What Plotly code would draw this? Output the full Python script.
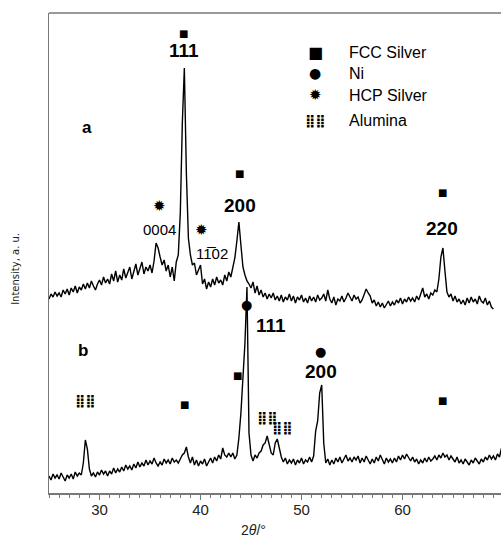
import numpy as np
import plotly.graph_objects as go

# 2-theta grid (degrees), step 0.2
two_theta_a = [round(25.0 + 0.2 * i, 1) for i in range(221)]   # 25.0 .. 69.0
two_theta_b = [round(25.0 + 0.2 * i, 1) for i in range(225)]   # 25.0 .. 69.8

# Pattern a (arbitrary intensity units, offset)
intensity_a = [
    194, 199, 196, 201, 197,
    200, 196, 203, 199, 204,
    198, 205, 201, 207, 200,
    206, 203, 209, 204, 210,
    205, 212, 207, 203, 209,
    213, 208, 216, 210, 214,
    209, 219, 212, 222, 211,
    218, 213, 224, 215, 220,
    226, 214, 221, 229, 218,
    224, 231, 219, 226, 222,
    228, 220, 232, 250, 245,
    236, 228, 233, 222, 228,
    216, 226, 212, 231, 238,
    280, 370, 425, 320, 255,
    238, 228, 230, 218, 224,
    228, 209, 214, 204, 211,
    206, 214, 208, 216, 210,
    213, 208, 218, 212, 221,
    216, 224, 235, 252, 271,
    248, 226, 218, 212, 209,
    205, 211, 200, 207, 198,
    203, 196, 200, 194, 199,
    195, 200, 193, 197, 192,
    198, 191, 196, 193, 199,
    192, 197, 190, 196, 193,
    198, 191, 195, 190, 197,
    192, 196, 191, 198, 193,
    195, 199, 192, 203, 194,
    190, 196, 188, 194, 192,
    197, 191, 195, 200, 196,
    192, 198, 194, 196, 190,
    193, 199, 204, 200, 197,
    190, 193, 187, 191, 186,
    190, 185, 189, 192, 187,
    191, 188, 193, 190, 195,
    189, 194, 191, 196, 192,
    195, 191, 197, 193, 199,
    205, 196, 199, 194, 200,
    198, 203, 201, 214, 236,
    245, 222, 201, 196, 199,
    192, 197, 191, 194, 189,
    193, 188, 195, 190, 196,
    191, 194, 189, 197, 192,
    190, 195, 188, 192, 186,
    184,
]

# Pattern b
intensity_b = [
    17, 13, 19, 15, 18,
    14, 20, 16, 12, 18,
    15, 19, 14, 21, 17,
    20, 18, 30, 53, 44,
    24, 17, 20, 16, 21,
    18, 23, 19, 22, 17,
    22, 19, 25, 20, 24,
    21, 26, 22, 28, 24,
    27, 23, 29, 25, 31,
    26, 30, 27, 33, 28,
    32, 29, 35, 30, 27,
    31, 28, 34, 30, 33,
    29, 35, 31, 33, 30,
    34, 38, 40, 46, 36,
    30, 36, 28, 33, 27,
    32, 29, 34, 27, 31,
    35, 30, 36, 32, 38,
    34, 45, 38, 36, 40,
    36, 40, 34, 38, 55,
    80, 110, 150, 206, 60,
    38, 32, 38, 35, 40,
    42, 48, 50, 57, 47,
    40, 38, 50, 54, 44,
    36, 31, 35, 29, 33,
    30, 34, 28, 33, 30,
    35, 29, 33, 31, 36,
    31, 37, 62, 72, 100,
    108, 50, 30, 34, 28,
    33, 29, 35, 31, 36,
    30, 34, 38, 32, 35,
    31, 36, 33, 37, 30,
    35, 31, 37, 33, 29,
    34, 30, 36, 32, 38,
    33, 29, 35, 31, 34,
    30, 35, 31, 37, 33,
    38, 34, 39, 35, 32,
    36, 31, 34, 29, 33,
    30, 35, 31, 36, 32,
    34, 37, 33, 38, 35,
    40, 36, 38, 33, 37,
    34, 31, 36, 30, 33,
    29, 34, 31, 28, 33,
    30, 35, 32, 29, 34,
    31, 36, 33, 38, 34,
    37, 33, 39, 36, 45,
]

x_ticks = [30, 40, 50, 60]
legend_labels = ["FCC Silver", "Ni", "HCP Silver", "Alumina"]

SQ = "\u25A0"
DOT = "\u25CF"
STAR = "\u2739"
ALU = "\u28FF\u28FF"

fig = go.Figure()
fig.add_trace(go.Scatter(x=two_theta_a, y=intensity_a, mode="lines",
                         line=dict(color="black", width=1.4), showlegend=False))
fig.add_trace(go.Scatter(x=two_theta_b, y=intensity_b, mode="lines",
                         line=dict(color="black", width=1.4), showlegend=False))

ARIAL = "Liberation Sans"
SYMF = "DejaVu Sans"

ann = []
def add(x, y, text, size, family=ARIAL, bold=False, xanchor="center", color="black", weight=None):
    t = f"<b>{text}</b>" if bold else text
    f = dict(family=family, size=size, color=color)
    if weight:
        f["weight"] = weight
    ann.append(dict(x=x, y=y, xref="x", yref="y", text=t, showarrow=False,
                    xanchor=xanchor, yanchor="middle", font=f))

def alu(x, y, size=13):
    add(x, y, ALU, size, SYMF, weight="bold")

# pattern a labels
add(38.35, 460, SQ, 10, SYMF)
add(38.35, 443, "111", 19, bold=True)
add(28.8, 366, "a", 17, bold=True)
add(43.85, 320, SQ, 10, SYMF)
add(43.9, 288, "200", 19, bold=True)
add(35.95, 287, STAR, 15, SYMF)
add(35.95, 264, "0004", 15)
add(40.1, 263, STAR, 15, SYMF)
add(41.1, 240, "11\u030502", 15)
add(63.95, 301, SQ, 10, SYMF)
add(63.95, 265, "220", 19, bold=True)

# pattern b labels
add(28.4, 143, "b", 17, bold=True)
alu(28.6, 93)
add(38.4, 89, SQ, 10, SYMF)
add(43.65, 118, SQ, 10, SYMF)
add(44.55, 189, DOT, 13, SYMF)
add(47.0, 168, "111", 19, bold=True)
alu(46.6, 76)
alu(48.1, 66)
add(51.9, 142, DOT, 13, SYMF)
add(51.9, 122, "200", 19, bold=True)
add(64.0, 93, SQ, 10, SYMF)

# legend
leg_y = [441, 420, 398, 373]
add(51.35, leg_y[0], SQ, 16, SYMF)
add(51.35, leg_y[1], DOT, 14, SYMF)
add(51.35, leg_y[2], STAR, 15, SYMF)
alu(51.35, leg_y[3])
for yy, lab in zip(leg_y, legend_labels):
    add(54.5, yy, lab, 16, xanchor="left")

# axis titles
ann.append(dict(x=45.2, y=-0.077, xref="x", yref="paper", text="2<i>θ</i>/°",
                showarrow=False, xanchor="center", yanchor="middle",
                font=dict(family=ARIAL, size=14, color="#222")))
ann.append(dict(x=-0.073, y=0.467, xref="paper", yref="paper", text="Intensity, a. u.",
                showarrow=False, textangle=-90, xanchor="center", yanchor="middle",
                font=dict(family="DejaVu Sans", size=10, color="#222")))

fig.update_layout(
    width=501, height=538,
    margin=dict(l=49, r=0, t=13, b=45),
    paper_bgcolor="white", plot_bgcolor="white",
    annotations=ann,
    shapes=[dict(type="line", xref="paper", yref="paper", x0=0, x1=1, y0=1, y1=1,
                 line=dict(color="#777", width=1.5))],
    showlegend=False,
)
fig.update_xaxes(range=[25, 69.75], showgrid=False, zeroline=False,
                 showline=True, linecolor="#777", linewidth=1.5,
                 tickmode="array", tickvals=x_ticks, ticktext=[str(v) for v in x_ticks],
                 ticks="outside", ticklen=5, tickcolor="#777", tickwidth=1,
                 ticklabelstandoff=-3,
                 minor=dict(dtick=1, tick0=0, ticks="outside", ticklen=3, tickcolor="#777", tickwidth=1),
                 tickfont=dict(family=ARIAL, size=15, color="#222"))
fig.update_yaxes(range=[0, 480], showgrid=False, zeroline=False,
                 showline=True, linecolor="#777", linewidth=1.5,
                 showticklabels=False, ticks="")

fig.write_html("out.html",
               config={"displayModeBar": False, "staticPlot": True},
               post_script="document.body.style.margin='0';document.body.style.padding='0';document.body.style.overflow='hidden';")
